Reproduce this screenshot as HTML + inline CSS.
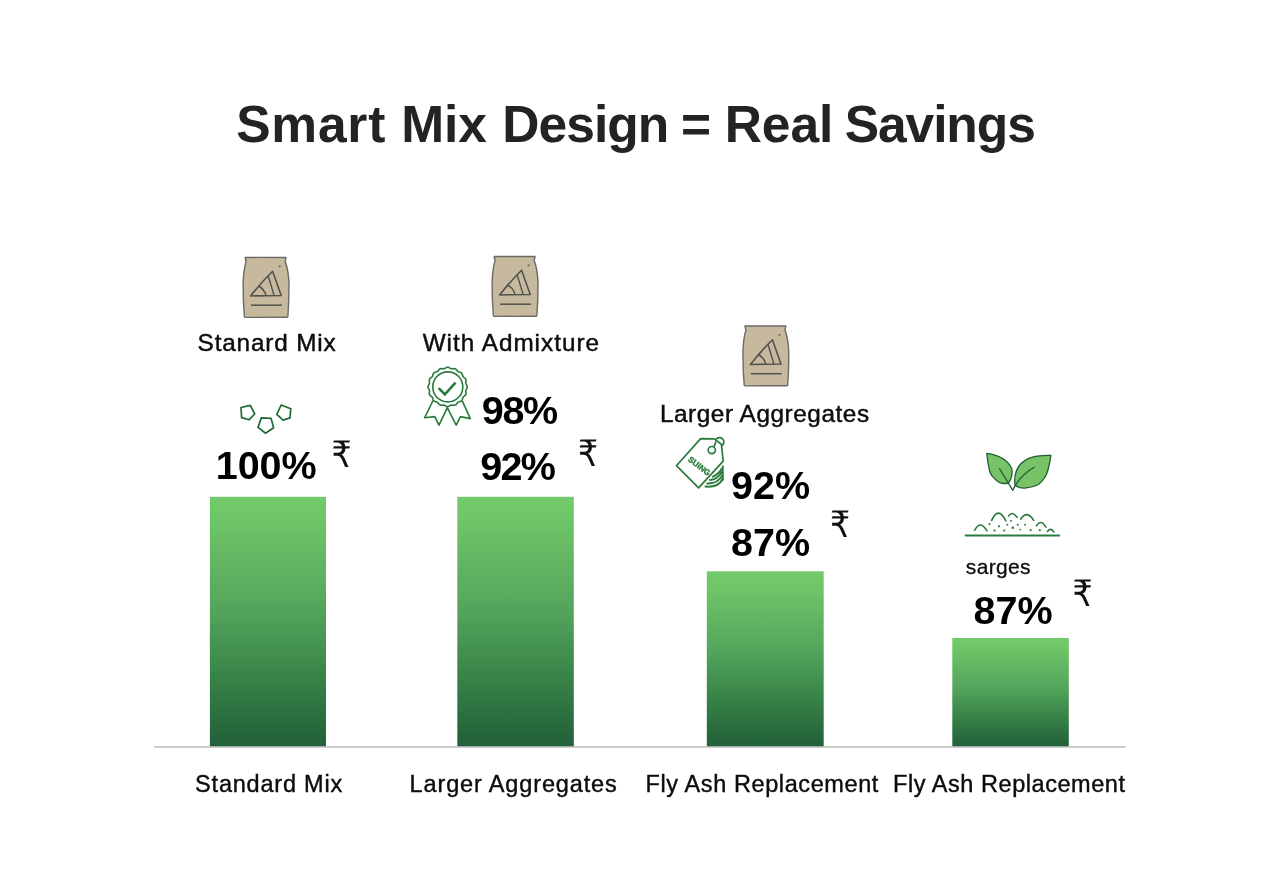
<!DOCTYPE html>
<html lang="en">
<head>
<meta charset="utf-8">
<title>Smart Mix Design = Real Savings</title>
<style>
html,body{margin:0;padding:0;background:#fff;}
body{width:1280px;height:896px;overflow:hidden;position:relative;font-family:"Liberation Sans",sans-serif;}
svg{position:absolute;left:0;top:0;display:block;}
text{font-family:"Liberation Sans",sans-serif;}
.t{font-weight:700;font-size:51.5px;fill:#232323;}
.l{font-size:24.3px;fill:#0c0c0c;stroke:#0c0c0c;stroke-width:0.45px;}
.b{font-size:23.5px;fill:#0c0c0c;stroke:#0c0c0c;stroke-width:0.4px;}
.p{font-weight:700;font-size:39.5px;fill:#000;}
.r{font-family:"DejaVu Sans",sans-serif;font-size:36.5px;fill:#111;}
.s{font-size:21px;fill:#0c0c0c;stroke:#0c0c0c;stroke-width:0.3px;}
</style>
</head>
<body>
<svg width="1280" height="896" viewBox="0 0 1280 896">
<defs>
<linearGradient id="g" x1="0" y1="0" x2="0" y2="1">
<stop offset="0" stop-color="#73ca6b"/>
<stop offset="0.07" stop-color="#70c768"/>
<stop offset="0.45" stop-color="#54a55c"/>
<stop offset="0.7" stop-color="#3a8649"/>
<stop offset="0.9" stop-color="#296c3e"/>
<stop offset="1" stop-color="#22603a"/>
</linearGradient>
<g id="bag">
<path d="M2 0.9 L42.8 1 Q42.7 2.8 41.9 4.6 Q45.8 16 45.8 29 Q45.8 45 44.7 59.8 Q44.6 60.7 43.7 60.7 L2.2 60.9 Q1.3 60.9 1.2 60 Q-0.1 45 -0.1 29 Q-0.1 16 2.9 4.6 Q2.1 2.8 2 0.9 Z" fill="#c7b99e" stroke="#6b6a66" stroke-width="1.4" stroke-linejoin="round"/>
<path d="M7.4 39.4 Q18.5 25.5 29.4 14.8 L38 39.1 Z" fill="none" stroke="#50524e" stroke-width="1.55" stroke-linejoin="round"/>
<path d="M15.4 29.5 Q21 32.5 22.9 39.1" fill="none" stroke="#50524e" stroke-width="1.45"/>
<path d="M25 19.4 L30.9 38.9" fill="none" stroke="#50524e" stroke-width="1.45"/>
<path d="M7.7 48.7 L38.7 48.7" stroke="#50524e" stroke-width="1.5"/>
<ellipse cx="36.5" cy="9.8" rx="1.3" ry="0.9" fill="#6b6a66" transform="rotate(-30 36.5 9.8)"/>
</g>
</defs>

<text id="title" class="t" y="141.5"><tspan id="tw0" x="236.2" textLength="149.1" lengthAdjust="spacing">Smart</tspan> <tspan id="tw1" x="401.2" textLength="85.6" lengthAdjust="spacing">Mix</tspan> <tspan id="tw2" x="502.2" textLength="167.1" lengthAdjust="spacing">Design</tspan> <tspan id="tw3" x="681.0" textLength="26.3" lengthAdjust="spacing">=</tspan> <tspan id="tw4" x="724.7" textLength="108.6" lengthAdjust="spacing">Real</tspan> <tspan id="tw5" x="844.7" textLength="191.1" lengthAdjust="spacing">Savings</tspan></text>

<!-- bars -->
<rect x="209.9" y="496.8" width="116.1" height="249.8" fill="url(#g)"/>
<rect x="457.3" y="496.8" width="116.5" height="249.8" fill="url(#g)"/>
<rect x="706.8" y="571.3" width="116.9" height="175.3" fill="url(#g)"/>
<rect x="952.3" y="638" width="116.5" height="108.6" fill="url(#g)"/>
<rect x="154" y="746.3" width="971.6" height="1.3" fill="#b4b4b4"/>

<!-- bags -->
<use href="#bag" x="243.2" y="256.5"/>
<use href="#bag" x="492.2" y="255.5"/>
<use href="#bag" x="743" y="325"/>

<!-- top labels -->
<text id="l1" class="l" x="197.6" y="351.4" textLength="138.1" lengthAdjust="spacing">Stanard Mix</text>
<text id="l2" class="l" x="422.7" y="351.4" textLength="176.3" lengthAdjust="spacing">With Admixture</text>
<text id="l3" class="l" x="659.9" y="421.6" textLength="209.2" lengthAdjust="spacing">Larger Aggregates</text>
<text id="l4" class="s" x="965.8" y="573.6" textLength="64.8" lengthAdjust="spacing">sarges</text>

<!-- percentages -->
<text id="p1" class="p" x="215.8" y="479.4" textLength="100.7" lengthAdjust="spacing">100%</text>
<text id="p2" class="p" x="481.7" y="424" textLength="76.5" lengthAdjust="spacing">98%</text>
<text id="p3" class="p" x="480.3" y="480" textLength="75.6" lengthAdjust="spacing">92%</text>
<text id="p4" class="p" x="731.1" y="499.3" textLength="79.0" lengthAdjust="spacing">92%</text>
<text id="p5" class="p" x="731.1" y="556.1" textLength="79.0" lengthAdjust="spacing">87%</text>
<text id="p6" class="p" x="973.6" y="624" textLength="79.0" lengthAdjust="spacing">87%</text>

<!-- rupee -->
<text id="r1" class="r" transform="translate(331.4 467) scale(0.87 1)">₹</text>
<text id="r2" class="r" transform="translate(578 466.3) scale(0.87 1)">₹</text>
<text id="r3" class="r" transform="translate(830 536.6) scale(0.87 1)">₹</text>
<text id="r4" class="r" transform="translate(1072.6 605.8) scale(0.87 1)">₹</text>

<!-- bottom labels -->
<text id="b1" class="b" x="195.1" y="792.4" textLength="147.1" lengthAdjust="spacing">Standard Mix</text>
<text id="b2" class="b" x="409.6" y="792.4" textLength="207.2" lengthAdjust="spacing">Larger Aggregates</text>
<text id="b3" class="b" x="645.6" y="792.4" textLength="232.8" lengthAdjust="spacing">Fly Ash Replacement</text>
<text id="b4" class="b" x="893.1" y="792.4" textLength="231.9" lengthAdjust="spacing">Fly Ash Replacement</text>

<!-- ICONS -->
<!-- pentagons -->
<g fill="none" stroke="#1f6b35" stroke-width="1.7" stroke-linejoin="round">
<path d="M241 407.5 L250.3 405.3 L254.7 414 L248.9 419.8 L241.6 417.6 Z"/>
<path d="M261.3 417.9 L271.1 418.4 L273.6 427.7 L265.6 433.2 L258 427.4 Z"/>
<path d="M281.2 405 L290.8 408.8 L290 417.9 L283.1 420.1 L276.8 414.3 Z"/>
</g>

<!-- badge -->
<g fill="none" stroke="#2a7a3c" stroke-width="1.6" stroke-linejoin="round" stroke-linecap="round">
<path d="M467.3 386.9 L467.2 387.6 L466.9 388.2 L466.6 388.9 L466.2 389.5 L466.0 390.1 L465.8 390.8 L465.8 391.4 L465.9 392.1 L466.0 392.9 L466.0 393.6 L465.9 394.3 L465.6 394.9 L465.1 395.4 L464.5 395.9 L464.0 396.3 L463.4 396.8 L463.0 397.3 L462.7 397.9 L462.5 398.5 L462.4 399.2 L462.1 399.9 L461.8 400.5 L461.3 401.0 L460.7 401.4 L460.0 401.6 L459.3 401.8 L458.6 402.0 L458.0 402.3 L457.5 402.7 L457.1 403.2 L456.6 403.8 L456.2 404.3 L455.6 404.8 L455.0 405.1 L454.3 405.2 L453.6 405.2 L452.9 405.1 L452.2 405.0 L451.5 405.1 L450.9 405.2 L450.3 405.5 L449.6 405.8 L449.0 406.2 L448.3 406.5 L447.6 406.5 L447.0 406.5 L446.3 406.2 L445.7 405.8 L445.0 405.5 L444.4 405.2 L443.8 405.1 L443.1 405.0 L442.4 405.1 L441.7 405.2 L441.0 405.2 L440.3 405.1 L439.7 404.8 L439.1 404.3 L438.7 403.8 L438.2 403.2 L437.8 402.7 L437.3 402.3 L436.7 402.0 L436.0 401.8 L435.3 401.6 L434.6 401.4 L434.0 401.0 L433.5 400.5 L433.2 399.9 L432.9 399.2 L432.8 398.5 L432.6 397.9 L432.3 397.3 L431.9 396.8 L431.3 396.3 L430.8 395.9 L430.2 395.4 L429.7 394.9 L429.4 394.3 L429.3 393.6 L429.3 392.9 L429.4 392.1 L429.5 391.4 L429.5 390.8 L429.3 390.1 L429.1 389.5 L428.7 388.9 L428.4 388.2 L428.1 387.6 L428.0 386.9 L428.1 386.2 L428.4 385.6 L428.7 384.9 L429.1 384.3 L429.3 383.7 L429.5 383.0 L429.5 382.4 L429.4 381.7 L429.3 380.9 L429.3 380.2 L429.4 379.5 L429.7 378.9 L430.2 378.4 L430.8 377.9 L431.3 377.5 L431.9 377.0 L432.3 376.5 L432.6 375.9 L432.8 375.3 L432.9 374.6 L433.2 373.9 L433.5 373.3 L434.0 372.8 L434.6 372.4 L435.3 372.2 L436.0 372.0 L436.7 371.8 L437.3 371.5 L437.8 371.1 L438.2 370.6 L438.7 370.0 L439.1 369.5 L439.7 369.0 L440.3 368.7 L441.0 368.6 L441.7 368.6 L442.4 368.7 L443.1 368.8 L443.8 368.7 L444.4 368.6 L445.0 368.3 L445.7 368.0 L446.3 367.6 L447.0 367.3 L447.6 367.2 L448.3 367.3 L449.0 367.6 L449.6 368.0 L450.3 368.3 L450.9 368.6 L451.5 368.7 L452.2 368.8 L452.9 368.7 L453.6 368.6 L454.3 368.6 L455.0 368.7 L455.6 369.0 L456.2 369.5 L456.6 370.0 L457.1 370.6 L457.5 371.1 L458.0 371.5 L458.6 371.8 L459.3 372.0 L460.0 372.2 L460.7 372.4 L461.3 372.8 L461.8 373.3 L462.1 373.9 L462.4 374.6 L462.5 375.3 L462.7 375.9 L463.0 376.5 L463.4 377.0 L464.0 377.5 L464.5 377.9 L465.1 378.4 L465.6 378.9 L465.9 379.5 L466.0 380.2 L466.0 380.9 L465.9 381.7 L465.8 382.4 L465.8 383.0 L466.0 383.7 L466.2 384.3 L466.6 384.9 L466.9 385.6 L467.2 386.2 Z"/>
<circle cx="447.8" cy="386.9" r="15"/>
<path d="M438.7 388.1 L444.9 394.4 L455.5 382.7" stroke-width="2.6" stroke-linecap="butt" stroke-linejoin="miter"/>
<path d="M432.8 401 L424.6 417.8 L434.7 416.6 L439 425.2 L447.3 407.7 L456.2 425.2 L460.5 416.6 L470.3 418.6 L462.5 401.4"/>
</g>

<!-- price tag -->
<g fill="none" stroke="#2a7a3c" stroke-width="1.7" stroke-linejoin="round" stroke-linecap="round">
<path d="M705.5 486.6 Q718.6 487.6 722.6 479 M707.3 483.4 Q717.9 483.8 722.3 475.4 M710 480 Q717.1 479.5 722 472 M712.9 476.6 Q718.6 474.5 721.8 468.6" stroke-width="2"/>
<path d="M722.9 466 L722.9 480"/>
<path d="M700.7 438.6 L714.3 438.9 L721.4 444.3 L723.2 461.1 L698.6 487.9 L676.4 465.7 Z" fill="#fff"/>
<path d="M715.8 439.6 A4.4 4.4 0 1 1 722 445.6"/>
<circle cx="711.8" cy="450.1" r="3.6"/>
<path d="M714.2 446.4 L715.8 442"/>
</g>
<text id="tagtxt" transform="translate(687.6 460.4) rotate(38)" style="font-size:8.2px;font-weight:700;fill:#2a7a3c;stroke:#2a7a3c;stroke-width:0.35px" textLength="25.5" lengthAdjust="spacingAndGlyphs">SUING</text>

<!-- leaves -->
<g stroke="#1f5f33" stroke-width="1.3" stroke-linejoin="round" stroke-linecap="round">
<path d="M986.8 453.3 Q1006 456 1011.6 468.2 Q1013.5 476 1008.5 483 Q1002 484.5 998.1 481.7 Q990.5 476 989.5 470.7 Q987.5 462 986.8 453.3 Z" fill="#79c267"/>
<path d="M1050.9 455.3 Q1036 455 1028.7 458.4 Q1019 463 1016.5 470.7 Q1013.6 478 1015.2 485.4 Q1020 488.8 1026.3 487.9 Q1034 486.8 1038.6 484.2 Q1045.5 479 1047.8 470.7 Q1049.8 463 1050.9 455.3 Z" fill="#79c267"/>
<path d="M999.5 468.5 L1012.8 490.3 L1014.6 486.6 Q1022 474 1034.3 467.3" fill="none"/>
</g>

<!-- soil -->
<g fill="none" stroke="#2a7a3c" stroke-width="1.6" stroke-linecap="round">
<path d="M965.5 535.5 L1059.2 535.5" stroke-width="1.8"/>
<path d="M974.7 530.2 Q980.3 519.5 987 530.9"/>
<path d="M991.7 520.4 Q998.1 505.5 1006 521"/>
<path d="M1008.5 516.1 Q1012.2 510.3 1017.1 517.3"/>
<path d="M1020.8 519.2 Q1026.9 509.5 1033.7 520.4"/>
<path d="M1036.4 525.9 Q1041 518.5 1045.9 527.2"/>
<path d="M1047.4 531.5 Q1050.9 527 1053.9 532.1"/>
</g>
<g fill="#2f7d41">
<circle cx="989.5" cy="524.1" r="1.1"/><circle cx="999" cy="526.3" r="1.1"/><circle cx="994.6" cy="530.6" r="1.1"/>
<circle cx="1004.2" cy="530.6" r="1.1"/><circle cx="1012.8" cy="527.8" r="1.3"/><circle cx="1011" cy="521" r="1"/>
<circle cx="1017.7" cy="524.7" r="1"/><circle cx="1025.1" cy="524.7" r="1"/><circle cx="1020.2" cy="529.6" r="0.9"/>
<circle cx="1030.6" cy="530.2" r="1.1"/><circle cx="1039.8" cy="530.2" r="1.1"/><circle cx="1007.3" cy="524.7" r="1"/>
</g>

</svg>
</body>
</html>
